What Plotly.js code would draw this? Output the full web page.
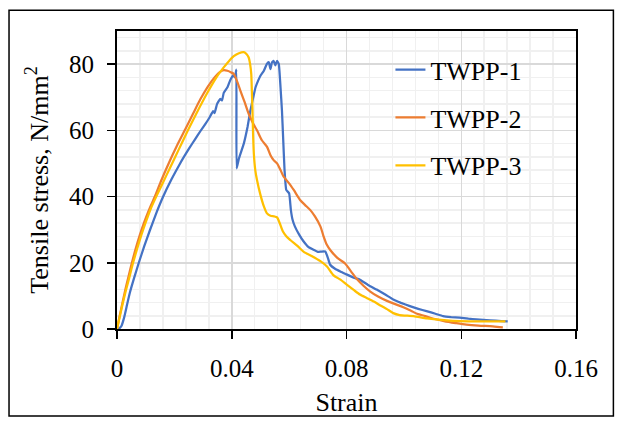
<!DOCTYPE html>
<html>
<head>
<meta charset="utf-8">
<script src="https://cdn.plot.ly/plotly-3.0.1.min.js"></script>
<style>html,body{margin:0;padding:0;background:#fff;}#chart{width:619px;height:421px;}</style>
</head>
<body>
<div id="chart"></div>
<script>
// TWPP-1
const strain1 = [0,0.0008,0.0016,0.0025,0.0035,0.0045,0.006,0.0076,0.0095,0.0115,
  0.0137,0.0161,0.019,0.022,0.0252,0.0272,0.0291,0.031,0.0322,0.0335,
  0.034,0.0349,0.036,0.0366,0.0372,0.0385,0.0395,0.0405,0.0411,0.0416,
  0.0417,0.0425,0.0442,0.0455,0.0465,0.0475,0.0483,0.0492,0.05,0.0512,
  0.0522,0.0529,0.0535,0.054,0.0546,0.0552,0.0558,0.0564,0.057,0.0575,
  0.0579,0.0584,0.059,0.06,0.0606,0.0612,0.062,0.0635,0.065,0.0668,
  0.0685,0.07,0.0712,0.0726,0.0735,0.0743,0.076,0.078,0.08,0.0825,
  0.0847,0.0875,0.0905,0.0935,0.0963,0.099,0.1021,0.105,0.1079,0.111,
  0.1137,0.1165,0.1194,0.1225,0.1253,0.13,0.134,0.1362];
const stress1 = [0,0.2,1,3.5,7.3,11,15.5,20,25,29.9,
  35,40,45.2,50,54.6,57.3,59.8,62.2,63.8,65.8,
  65.2,68,69.5,69,71.3,73,75.2,76.5,76,78.3,
  48.5,51.5,56,61,66,70,73,75,76.5,78,
  80,80.6,78.5,80.5,81,79.6,81,80,73,66,
  58,48,42,41,36,33,31,28.5,26.5,24.7,
  23.9,23.3,23.4,23.4,21.5,19.4,18.2,17.3,16.5,15.5,
  14.9,13.3,11.9,10.4,8.9,7.9,6.9,6.1,5.4,4.6,
  3.9,3.6,3.4,3.1,2.9,2.6,2.4,2.3];

// TWPP-2
const strain2 = [0,0.001,0.002,0.003,0.004,0.0052,0.0065,0.008,0.0095,0.0113,
  0.0132,0.0155,0.018,0.0208,0.0238,0.0265,0.029,0.0315,0.034,0.0358,
  0.0372,0.0385,0.0398,0.0407,0.042,0.043,0.0445,0.0459,0.0475,0.0488,
  0.0505,0.0523,0.0535,0.0546,0.0558,0.057,0.0581,0.06,0.0616,0.0639,
  0.0655,0.0674,0.069,0.0709,0.072,0.0731,0.0744,0.0768,0.0795,0.0815,
  0.0837,0.086,0.0883,0.091,0.0941,0.097,0.1,0.1025,0.1046,0.1075,
  0.1104,0.114,0.118,0.1218,0.126,0.131,0.1345];
const stress2 = [0,4.2,8.3,12.2,15.8,20,24.2,28.5,32.3,36.3,
  40,45,50,55.2,60.3,65,69.3,73,76,77.6,
  78.2,78,77.5,77,74.5,72,68.5,65,62,60,
  57,55,52.5,51,50,48,46,44,42,38.9,
  37.5,35.9,34,31,28,25.5,23.8,21.5,19.8,17.5,
  15,13,11.3,9.8,8.5,7.5,6.5,5.5,4.6,3.9,
  3.1,2.4,1.8,1.3,1.0,0.8,0.5];

// TWPP-3
const strain3 = [0,0.001,0.002,0.003,0.0043,0.0056,0.007,0.0085,0.01,0.0118,
  0.0138,0.016,0.0185,0.0213,0.0246,0.0275,0.0314,0.0345,0.0372,0.039,
  0.0407,0.0425,0.0442,0.0452,0.0459,0.0464,0.0468,0.047,0.0472,0.0474,
  0.0477,0.0482,0.0488,0.05,0.0512,0.0522,0.0535,0.0548,0.0558,0.0567,
  0.0578,0.059,0.0605,0.063,0.0651,0.068,0.0709,0.0732,0.0755,0.0779,
  0.0802,0.0825,0.0847,0.087,0.0895,0.092,0.0941,0.0963,0.0985,0.1034,
  0.1081,0.115,0.1194,0.128,0.1354];
const stress3 = [0,3.9,7.7,11.3,15.6,20,24.2,28.4,32.2,36.4,
  40.2,44.2,48.7,53.8,59.8,64.8,71.2,75.8,79,80.9,
  82.4,83.3,83.6,83,82,80,77,72,67,60,
  53,48,45,40.5,37,35,34.2,34,33.7,32,
  29.5,28,26.8,25,23.3,22,20.5,18.9,16.2,14.9,
  13.3,11.8,10.4,9.4,8.3,7.0,6.0,4.8,4.2,3.9,
  3.2,2.6,2.4,2.3,2.3];

const seriesNames = ['TWPP-1','TWPP-2','TWPP-3'];
const seriesColors = ['#4472C4','#ED7D31','#FFC000'];
const xTicks = [0,0.04,0.08,0.12,0.16];
const yTicks = [0,20,40,60,80];

const xs = [strain1, strain2, strain3];
const ys = [stress1, stress2, stress3];
const smooth = [0.35, 0.8, 0.6];

const FONT = '"Liberation Serif", "DejaVu Serif", serif';

const traces = xs.map((x, i) => ({
  type: 'scatter', mode: 'lines', x: x, y: ys[i], name: seriesNames[i],
  legendgroup: 'g' + i,
  line: {color: seriesColors[i], width: 2.25, shape: 'spline', smoothing: smooth[i]}
}));

const L = 116.5, R = 575.6, T = 30.7, B = 329, W = 619, H = 421;
const pw = R - L, ph = B - T;
function px2x(p){ return (p - L) / pw; }
function py2y(p){ return (B - p) / ph; }

const layout = {
  width: W, height: H,
  margin: {l: L, r: W - R, t: T, b: H - B, pad: 0},
  paper_bgcolor: '#ffffff', plot_bgcolor: '#ffffff',
  font: {family: FONT, size: 25, color: '#000000'},
  showlegend: true,
  legend: {
    x: px2x(390), y: py2y(46), xanchor: 'left', yanchor: 'top',
    bgcolor: 'rgba(0,0,0,0)', borderwidth: 0,
    font: {family: FONT, size: 26, color: '#000'},
    traceorder: 'grouped', tracegroupgap: 11
  },
  xaxis: {
    range: [0, 0.16], tickvals: xTicks, ticktext: xTicks.map(String),
    showgrid: true, gridcolor: '#d9d9d9', gridwidth: 1.5,
    minor: {dtick: 0.008, showgrid: true, gridcolor: '#f0f0f0', gridwidth: 1.5, ticks: ''},
    zeroline: false,
    showline: true, linecolor: '#000', linewidth: 2, mirror: true,
    ticks: 'outside', ticklen: 8, tickwidth: 1.5, tickcolor: '#000',
    ticklabelstandoff: 8,
    tickfont: {family: FONT, size: 25, color: '#000'},
    title: {text: 'Strain', font: {family: FONT, size: 26, color: '#000'}, standoff: 12},
    automargin: false
  },
  yaxis: {
    range: [0, 90], tickvals: yTicks,
    showgrid: true, gridcolor: '#d9d9d9', gridwidth: 1.5,
    minor: {dtick: 4, showgrid: true, gridcolor: '#f0f0f0', gridwidth: 1.5, ticks: ''},
    zeroline: false,
    showline: true, linecolor: '#000', linewidth: 2, mirror: true,
    ticks: 'outside', ticklen: 8, tickwidth: 1.5, tickcolor: '#000',
    ticklabelstandoff: 8,
    tickfont: {family: FONT, size: 25, color: '#000'},
    title: {text: 'Tensile stress, N/mm<sup>2</sup>', font: {family: FONT, size: 26, color: '#000'}, standoff: 13},
    automargin: false
  },
  shapes: [{
    type: 'rect', xref: 'paper', yref: 'paper',
    x0: px2x(8.5), x1: px2x(613), y0: py2y(416), y1: py2y(10),
    line: {color: '#000', width: 1.5}, fillcolor: 'rgba(0,0,0,0)', layer: 'above'
  }]
};

Plotly.newPlot('chart', traces, layout, {displayModeBar: false, staticPlot: true});
</script>
</body>
</html>
